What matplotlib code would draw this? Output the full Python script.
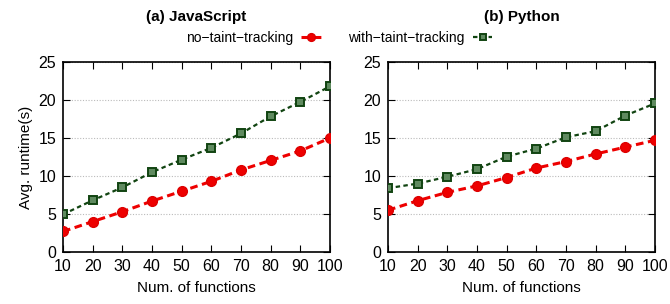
import numpy as np
import matplotlib.pyplot as plt

plt.rcParams['font.family'] = ['Liberation Sans', 'DejaVu Sans']

funcs = [10, 20, 30, 40, 50, 60, 70, 80, 90, 100]

js_no_taint = [2.7, 4.0, 5.3, 6.7, 8.0, 9.3, 10.8, 12.05, 13.3, 15.0]
js_with_taint = [4.95, 6.8, 8.5, 10.5, 12.15, 13.7, 15.6, 17.85, 19.75, 21.8]

py_no_taint = [5.5, 6.75, 7.85, 8.7, 9.8, 11.05, 11.9, 12.9, 13.8, 14.7]
py_with_taint = [8.4, 9.0, 9.9, 10.9, 12.55, 13.6, 15.1, 15.9, 17.95, 19.55]

titles = ['(a) JavaScript', '(b) Python']
red = '#ee0000'
green = '#114411'

fig = plt.figure(figsize=(6.7, 3.04), dpi=100)
ax1 = fig.add_axes([63/670, 1-252/304, 267/670, 190/304])
ax2 = fig.add_axes([388/670, 1-252/304, 267/670, 190/304])

for ax, no_t, with_t, title in [(ax1, js_no_taint, js_with_taint, titles[0]),
                                (ax2, py_no_taint, py_with_taint, titles[1])]:
    ax.plot(funcs, no_t, color=red, lw=2.2, ls=(0, (2.5, 1.5)), marker='o',
            ms=7, mfc=red, mec='#dd0000', label='no\u2212taint\u2212tracking', zorder=3)
    ax.plot(funcs, with_t, color=green, lw=1.6, ls=(0, (2, 1.5)), marker='s',
            ms=6, mfc='#5f8a5f', mec=green, mew=1.4, label='with\u2212taint\u2212tracking', zorder=3)
    ax.set_xlim(10, 100)
    ax.set_ylim(0, 25)
    ax.set_xticks(funcs)
    ax.set_yticks([0, 5, 10, 15, 20, 25])
    ax.yaxis.grid(True, color='#bbbbbb', ls=(0, (1, 1.5)), lw=0.8)
    ax.tick_params(direction='in', top=True, right=True, labelsize=11.5, length=5, pad=5)
    ax.set_xlabel('Num. of functions', fontsize=11, labelpad=5)
    ax.text(0.5, 1.0 + 45/190, title, transform=ax.transAxes, ha='center', va='center',
            fontsize=11, fontweight='bold')
    for s in ax.spines.values():
        s.set_linewidth(1.2)

ax1.set_ylabel('Avg. runtime(s)', fontsize=11)

handles, labels = ax1.get_legend_handles_labels()
fig.legend(handles, labels, loc='center', bbox_to_anchor=(0.506, 1-38/304), ncol=2,
           markerfirst=False, frameon=False, fontsize=10, handlelength=1.4,
           columnspacing=2.0, handletextpad=0.6, markerscale=0.8)

fig.savefig('out.png', dpi=100)
